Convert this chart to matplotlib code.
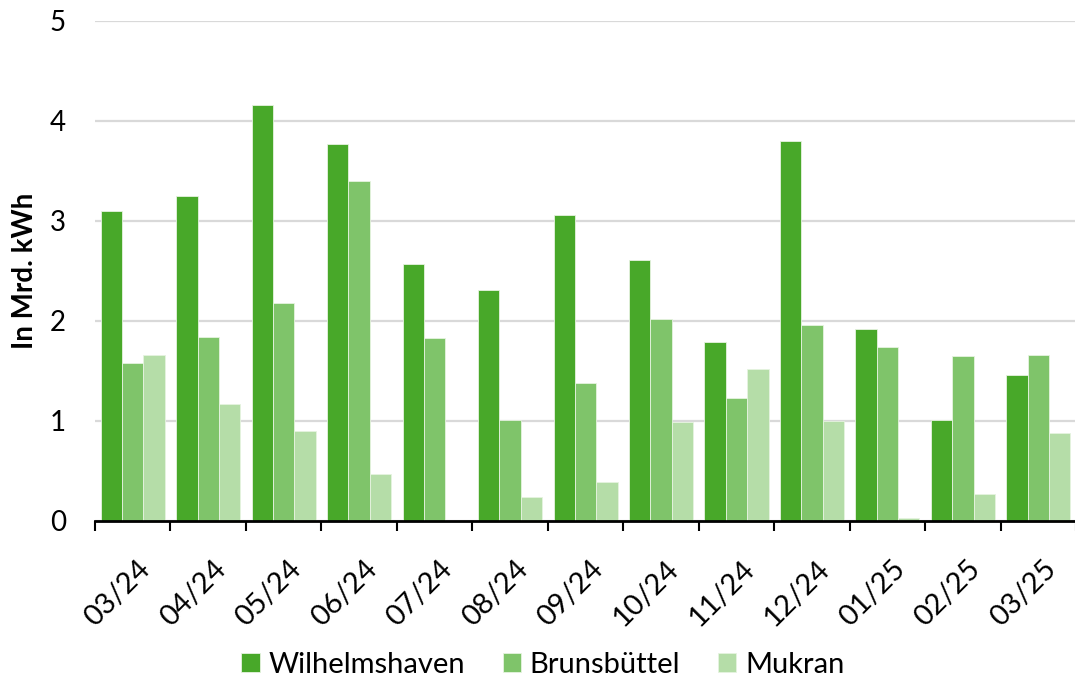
import numpy as np
import matplotlib
matplotlib.use("Agg")
import matplotlib.pyplot as plt

plt.rcParams["font.family"] = ["Lato", "DejaVu Sans"]

months = ["03/24", "04/24", "05/24", "06/24", "07/24", "08/24", "09/24",
          "10/24", "11/24", "12/24", "01/25", "02/25", "03/25"]
wilhelmshaven = [3.10, 3.25, 4.16, 3.77, 2.57, 2.31, 3.06, 2.61, 1.79, 3.80, 1.92, 1.01, 1.46]
brunsbuettel = [1.58, 1.84, 2.18, 3.40, 1.83, 1.01, 1.38, 2.02, 1.23, 1.96, 1.74, 1.65, 1.66]
mukran = [1.66, 1.17, 0.90, 0.47, 0.0, 0.24, 0.39, 0.99, 1.52, 1.00, 0.03, 0.27, 0.88]

series = [
    ("Wilhelmshaven", wilhelmshaven, "#48a829"),
    ("Brunsbüttel", brunsbuettel, "#7fc46a"),
    ("Mukran", mukran, "#b5dda8"),
]

fig = plt.figure(figsize=(10.75, 6.8), dpi=100)
ax = fig.add_axes([0.0884, 0.2343, 0.9126, 0.7353])

x = np.arange(len(months))
w = 0.283
for i, (name, vals, col) in enumerate(series):
    ax.bar(x + (i - 1) * w, vals, width=w, color=col, label=name,
           edgecolor="#e6f3e0", linewidth=0.6, zorder=3)

ax.set_xlim(-0.5, len(months) - 0.5)
ax.set_ylim(0, 5)
ax.set_yticks(range(0, 6))
ax.yaxis.grid(True, color="#d9d9d9", linewidth=1.6, zorder=0)
ax.tick_params(axis="y", length=0, labelsize=20, pad=21)

# group separators on the category axis
ax.set_xticks(np.arange(-0.5, len(months), 1.0), minor=False)
ax.set_xticklabels([])
ax.set_xticks(x + 0.06, minor=True)
ax.set_xticklabels(months, minor=True, rotation=45, ha="right",
                   rotation_mode="anchor", fontsize=21)
ax.tick_params(axis="x", which="major", length=7, width=1.5, direction="out",
               color="black")
ax.tick_params(axis="x", which="minor", length=0, pad=25)

for s in ("top", "right", "left"):
    ax.spines[s].set_visible(False)
ax.spines["bottom"].set_linewidth(2)
ax.spines["bottom"].set_zorder(4)

ax.set_ylabel("In Mrd. kWh", fontsize=20, fontweight="bold")
ax.yaxis.set_label_coords(-0.058, 0.5)

fig.legend(loc="center", bbox_to_anchor=(0.505, 0.022), ncol=3,
           frameon=False, fontsize=21, handlelength=0.62, handleheight=0.62,
           columnspacing=1.3, handletextpad=0.3)

fig.savefig("out.png", dpi=100)
